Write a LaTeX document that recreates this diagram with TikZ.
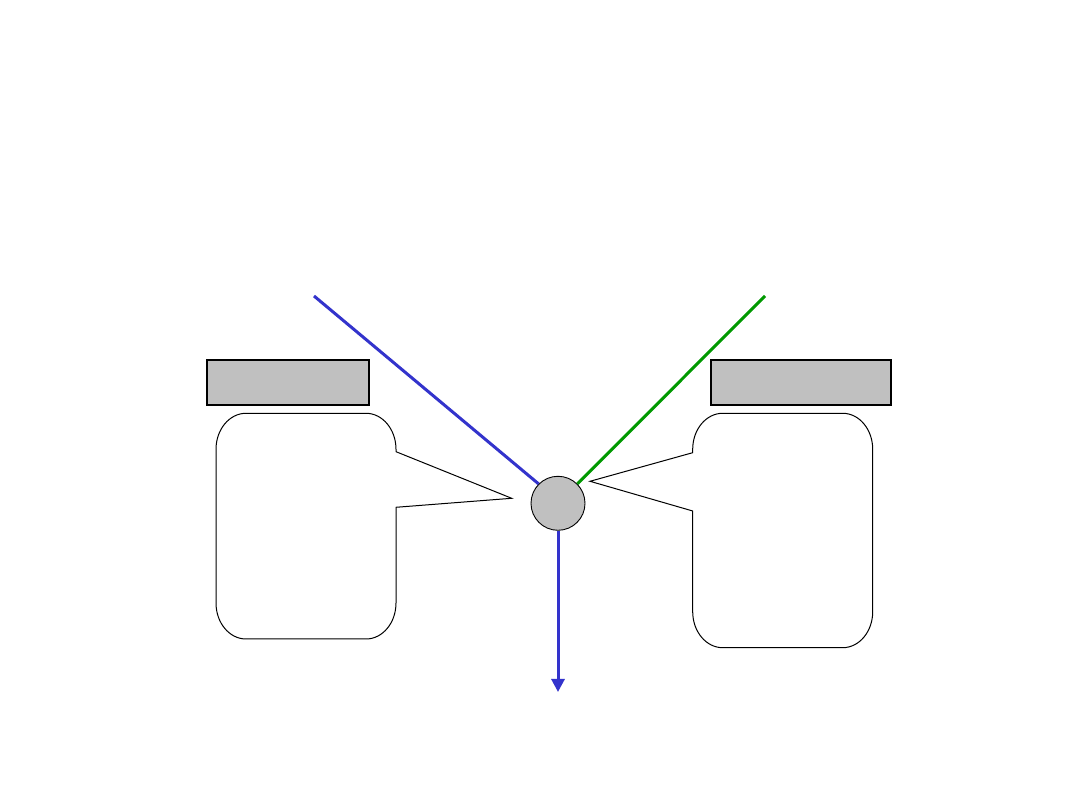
\documentclass[tikz,border=0pt]{standalone}
\usetikzlibrary{arrows.meta}
\definecolor{boxgray}{HTML}{C0C0C0}
\definecolor{rayblue}{HTML}{3333CC}
\definecolor{raygreen}{HTML}{009900}
\begin{document}
\begin{tikzpicture}[x=1pt,y=1pt,
  graybox/.style={draw=black,line width=2pt,fill=boxgray,inner sep=0pt,minimum height=45pt},
  ball/.style={circle,draw=black,line width=0.9pt,fill=boxgray,inner sep=0pt,minimum size=54pt},
  callout/.style={draw=black,line width=1pt,fill=white},
  ray/.style={line width=3pt},
  cr/.style={x radius=30,y radius=36}]
\useasboundingbox[fill=white] (0,0) rectangle (1080,810);
% gray header boxes
\node[graybox,minimum width=162pt] (lbox) at (288,427.5) {};
\node[graybox,minimum width=180pt] (rbox) at (801,427.5) {};
% central circle
\node[ball] (c) at (558,306.7) {};
% callouts
\draw[callout] (246,396.7) -- (366,396.7) arc[start angle=90,end angle=0,cr]
  -- (396,358.3) -- (511.7,311.7) -- (396,302.7) -- (396,207)
  arc[start angle=0,end angle=-90,cr] -- (246,171)
  arc[start angle=270,end angle=180,cr] -- (216,360.7)
  arc[start angle=180,end angle=90,cr] -- cycle;
\draw[callout] (722.7,396.7) -- (842.7,396.7) arc[start angle=90,end angle=0,cr]
  -- (872.7,198.3) arc[start angle=0,end angle=-90,cr] -- (722.7,162.3)
  arc[start angle=270,end angle=180,cr] -- (692.7,299) -- (590,328.7) -- (692.7,357.3)
  -- (692.7,360.7) arc[start angle=180,end angle=90,cr] -- cycle;
% rays
\coordinate (bstart) at (314,514);
\coordinate (gstart) at (765,514);
\coordinate (aend) at (558,118);
\draw[ray,rayblue] (bstart) -- (c.135);
\draw[ray,raygreen] (gstart) -- (c.45);
\draw[ray,rayblue,-{Triangle[width=13pt,length=13pt]}] (c.south) -- (aend);
\end{tikzpicture}
\end{document}
